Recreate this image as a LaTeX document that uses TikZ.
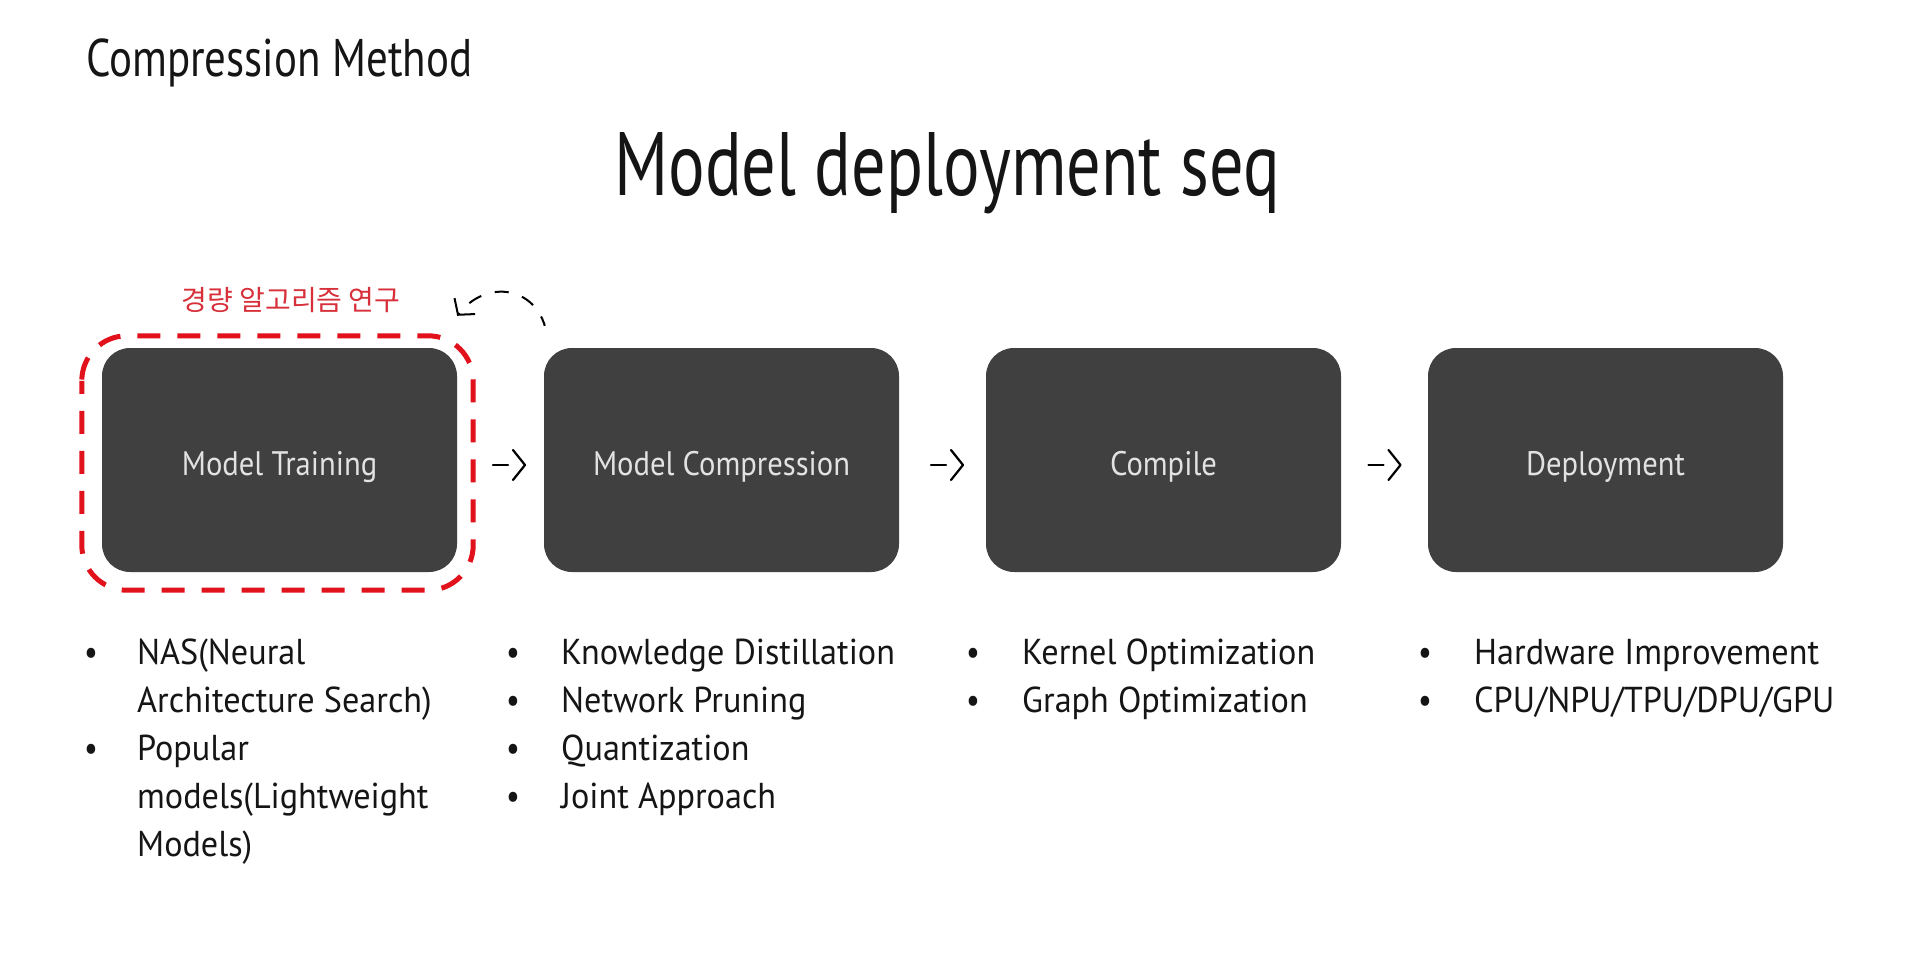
\documentclass[tikz,border=0pt]{standalone}
\usepackage{fontspec}
\setmainfont{PT Sans}[FakeStretch=0.85]
\newfontfamily\titlefont{PT Sans}[FakeStretch=0.76]
\newfontfamily\headfont{PT Sans}[FakeStretch=0.81]
\newfontfamily\stagefont{PT Sans}[FakeStretch=0.9]
\newfontfamily\itemfont{PT Sans}[FakeStretch=0.95]
\newfontfamily\krfont{Noto Sans CJK KR}
\usetikzlibrary{calc,arrows.meta}
\definecolor{boxgray}{HTML}{404040}
\definecolor{stagefg}{HTML}{E2E2E2}
\definecolor{itemfg}{HTML}{151515}
\definecolor{framered}{HTML}{E2121C}
\definecolor{labelred}{HTML}{D8303A}

% dash + chevron between two stages
\newcommand\flowarrow[3]{%
  \coordinate (fm) at ($(#1.east)!0.5!(#2.west)+(#3,5)$);
  \draw[flow] ($(fm)+(-16,0)$) -- ($(fm)+(-1,0)$);
  \draw[flow] ($(fm)+(4,-15)$) -- ($(fm)+(16,0)$) -- ($(fm)+(4,15)$);
}

\begin{document}
\begin{tikzpicture}[x=1pt,y=-1pt,
  stage/.style={fill=boxgray, rounded corners=28pt, minimum width=355pt,
    minimum height=224pt, inner sep=0pt, draw=none},
  stagetext/.style={text=stagefg, anchor=base, inner sep=0pt,
    font=\stagefont\fontsize{34}{40}\selectfont},
  item/.style={anchor=base west, inner sep=0pt, text=itemfg,
    font=\itemfont\fontsize{36}{48}\selectfont},
  dot/.style={anchor=base, inner sep=0pt, text=itemfg,
    font=\fontsize{36}{48}\selectfont},
  flow/.style={line width=2.2pt, line cap=round, line join=round, draw=black},
]
\useasboundingbox[fill=white] (0,0) rectangle (1907,955);

% headings
\node[anchor=base west, inner sep=0pt, font=\headfont\fontsize{53}{60}\selectfont, text=itemfg]
  (heading) at (86,77) {Compression Method};
\node[anchor=base, inner sep=0pt, font=\titlefont\fontsize{90}{100}\selectfont, text=itemfg]
  (title) at (947,195) {Model deployment seq};

% pipeline stages
\node[stage] (train)  at (279.5,460) {};
\node[stage] (comp)   at (721.5,460) {};
\node[stage] (compl)  at (1163.5,460) {};
\node[stage] (deploy) at (1605.5,460) {};

\node[stagetext] (traintxt)  at ($(train.center)+(0,15)$)  {Model Training};
\node[stagetext] (comptxt)   at ($(comp.center)+(0,15)$)   {Model Compression};
\node[stagetext] (compltxt)  at ($(compl.center)+(0,15)$)  {Compile};
\node[stagetext] (deploytxt) at ($(deploy.center)+(0,15)$) {Deployment};

% flow between stages
\flowarrow{train}{comp}{8.5}
\flowarrow{comp}{compl}{4.5}
\flowarrow{compl}{deploy}{0}

% lightweight-algorithm research frame
\draw[framered, line width=5pt, rounded corners=45pt, dash pattern=on 23pt off 17pt, dash phase=10pt]
  ($(train.north west)+(-20,-12)$) rectangle ($(train.south east)+(16,18)$);
\node[anchor=base, inner sep=0pt, text=labelred, font=\krfont\fontsize{28}{32}\selectfont]
  (research) at (291,310) {경량 알고리즘 연구};

% feedback loop from compression back to training
\coordinate (loopstart) at ($(comp.north west)+(1,-22)$);
\coordinate (loopend)   at ($(train.north east)+(0,-32)$);
\draw[line width=2pt, dash pattern=on 14pt off 14pt, dash phase=4pt,
      -{Straight Barb[length=11pt, width=26pt, line width=2pt]}]
  (loopstart) .. controls ($(loopstart)+(-12,-40)$) and ($(loopend)+(28,-36)$) .. (loopend);

% stage details
\node[dot] (d11) at (91,664) {•};
\node[item] (t11) at (137,664) {NAS(Neural};
\node[item] (t12) at (137,712) {Architecture Search)};
\node[dot] (d13) at (91,760) {•};
\node[item] (t13) at (137,760) {Popular};
\node[item] (t14) at (137,808) {models(Lightweight};
\node[item] (t15) at (137,856) {Models)};

\node[dot] (d21) at (513,664) {•};
\node[item] (t21) at (561,664) {Knowledge Distillation};
\node[dot] (d22) at (513,712) {•};
\node[item] (t22) at (561,712) {Network Pruning};
\node[dot] (d23) at (513,760) {•};
\node[item] (t23) at (561,760) {Quantization};
\node[dot] (d24) at (513,808) {•};
\node[item] (t24) at (561,808) {Joint Approach};

\node[dot] (d31) at (973,664) {•};
\node[item] (t31) at (1022,664) {Kernel Optimization};
\node[dot] (d32) at (973,712) {•};
\node[item] (t32) at (1022,712) {Graph Optimization};

\node[dot] (d41) at (1425,664) {•};
\node[item] (t41) at (1474,664) {Hardware Improvement};
\node[dot] (d42) at (1425,712) {•};
\node[item] (t42) at (1474,712) {CPU/NPU/TPU/DPU/GPU};
\end{tikzpicture}
\end{document}
